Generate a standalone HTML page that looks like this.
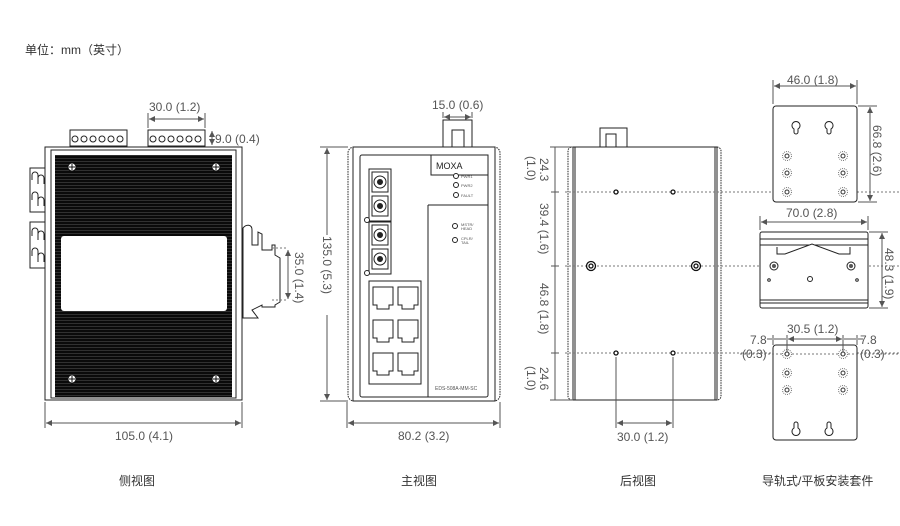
<!DOCTYPE html>
<html><head><meta charset="utf-8"><style>
body{margin:0;background:#fff;width:900px;height:526px;overflow:hidden}
svg{display:block}
text{font-family:"Liberation Sans","Noto Sans CJK SC",sans-serif;fill:#555;font-size:12px}
.c{font-family:"Liberation Sans","Noto Sans CJK SC",sans-serif;fill:#333;font-size:12px}
.d{stroke:#555;stroke-width:1;fill:none}
.o{stroke:#222;fill:#fff;stroke-width:1}
.dot{stroke:#777;stroke-dasharray:2 2;fill:none}
</style></head><body>
<svg width="900" height="526" viewBox="0 0 900 526">
<defs>
<pattern id="hs" width="4" height="3" patternUnits="userSpaceOnUse"><rect width="4" height="3" fill="#0a0a0a"/><rect y="2" width="4" height="0.5" fill="#555"/></pattern>
<marker id="a" viewBox="0 0 6 6" refX="6" refY="3" markerWidth="6" markerHeight="6" orient="auto-start-reverse"><path d="M0,0L6,3L0,6z" fill="#555"/></marker>
</defs>
<text class="c" x="25" y="54">单位：mm（英寸）</text>

<!-- SIDE VIEW -->
<rect x="30" y="168" width="15" height="44" class="o"/>
<rect x="30" y="222" width="15" height="46" class="o"/>
<path d="M32,180 L32,175 a3,3 0 0 1 6,0 L38,180 M38,184 L38,178 a3,3 0 0 1 6,0 L44,184 M32,200 L32,195 a3,3 0 0 1 6,0 L38,200 M38,206 L38,200 a3,3 0 0 1 6,0 L44,206" stroke="#222" fill="none"/>
<path d="M32,236 L32,231 a3,3 0 0 1 6,0 L38,236 M38,240 L38,234 a3,3 0 0 1 6,0 L44,240 M32,256 L32,251 a3,3 0 0 1 6,0 L38,256 M38,262 L38,256 a3,3 0 0 1 6,0 L44,262" stroke="#222" fill="none"/>
<rect x="70" y="130" width="57" height="16" class="o"/>
<rect x="148" y="130" width="57" height="16" class="o"/>
<g fill="#fff" stroke="#222">
<circle cx="75" cy="139" r="3"/><circle cx="84" cy="139" r="3"/><circle cx="93" cy="139" r="3"/><circle cx="102" cy="139" r="3"/><circle cx="111" cy="139" r="3"/><circle cx="120" cy="139" r="3"/>
<circle cx="153" cy="139" r="3"/><circle cx="162" cy="139" r="3"/><circle cx="171" cy="139" r="3"/><circle cx="180" cy="139" r="3"/><circle cx="189" cy="139" r="3"/><circle cx="198" cy="139" r="3"/>
</g>
<rect x="45" y="147" width="197" height="253" class="o"/>
<rect x="51" y="150" width="185" height="248" class="o"/>
<rect x="55" y="155" width="177" height="242" fill="url(#hs)"/>
<rect x="61" y="236" width="166" height="75" rx="3" fill="#fff"/>
<g fill="#fff" stroke="#111"><circle cx="72" cy="167" r="4"/><circle cx="216" cy="167" r="4"/><circle cx="72" cy="379" r="4"/><circle cx="216" cy="379" r="4"/></g>
<path d="M69,167h6M72,164v6M213,167h6M216,164v6M69,379h6M72,376v6M213,379h6M216,376v6" stroke="#111"/>
<path d="M243,318 L243,228 C246,224 252,224 252,230 L252,245 L258,245 L258,232 L262,234 L262,250 L272,250 L272,245 L275,245 L275,255 L280,258 L280,302 L275,305 L275,307 L262,307 L262,305 L252,310 L258,318 Z" class="o"/>
<path d="M272,248 L288,248 M272,300 L288,300" class="dot"/>
<line x1="288" y1="250" x2="288" y2="299" class="d" marker-start="url(#a)" marker-end="url(#a)"/>
<text x="0" y="0" transform="translate(295,252) rotate(90)">35.0 (1.4)</text>
<line x1="148" y1="128" x2="148" y2="113" class="d"/><line x1="205" y1="128" x2="205" y2="113" class="d"/>
<line x1="149" y1="119" x2="204" y2="119" class="d" marker-start="url(#a)" marker-end="url(#a)"/>
<text x="149" y="111">30.0 (1.2)</text>
<line x1="212" y1="131" x2="212" y2="145" class="d" marker-start="url(#a)" marker-end="url(#a)"/>
<text x="215" y="143">9.0 (0.4)</text>
<line x1="45" y1="402" x2="45" y2="428" class="d"/><line x1="242" y1="402" x2="242" y2="428" class="d"/>
<line x1="46" y1="423" x2="241" y2="423" class="d" marker-start="url(#a)" marker-end="url(#a)"/>
<text x="115" y="440">105.0 (4.1)</text>

<!-- FRONT VIEW -->
<rect x="443" y="120" width="29" height="27" class="o"/><rect x="452" y="130" width="12" height="17" class="o"/>
<rect x="348" y="147" width="152" height="254" rx="6" class="o" stroke-dasharray="1.5 1"/>
<rect x="353" y="147" width="142" height="254" class="o"/>
<rect x="360" y="155" width="128" height="242" rx="2" class="o"/>
<rect x="431" y="155" width="57" height="20" class="o"/><text x="436" y="169" style="font-size:9px;fill:#222">MOXA</text>
<line x1="428" y1="205" x2="488" y2="205" stroke="#222"/><line x1="428" y1="205" x2="428" y2="397" stroke="#222"/>
<g fill="#fff" stroke="#222"><circle cx="456" cy="176" r="2.5"/><circle cx="456" cy="185" r="2.5"/><circle cx="456" cy="195" r="2.5"/><circle cx="455" cy="226" r="2.5"/><circle cx="455" cy="240" r="2.5"/></g>
<g fill="#222"><text x="461" y="178" style="font-size:4px">PWR1</text><text x="461" y="187" style="font-size:4px">PWR2</text><text x="461" y="197" style="font-size:4px">FAULT</text><text x="461" y="226" style="font-size:4px">MSTR/</text><text x="461" y="230" style="font-size:4px">HEAD</text><text x="461" y="240" style="font-size:4px">CPLR/</text><text x="461" y="244" style="font-size:4px">TAIL</text><text x="435" y="390" style="font-size:5px">EDS-508A-MM-SC</text></g>
<rect x="369" y="169" width="22" height="52" class="o"/><rect x="369" y="222" width="22" height="52" class="o"/>
<g fill="#fff" stroke="#222"><rect x="372" y="172" width="16" height="20"/><rect x="372" y="196" width="16" height="20"/><rect x="372" y="225" width="16" height="20"/><rect x="372" y="249" width="16" height="20"/>
<circle cx="380" cy="182" r="6"/><circle cx="380" cy="206" r="6"/><circle cx="380" cy="235" r="6"/><circle cx="380" cy="259" r="6"/></g>
<g fill="#222"><circle cx="380" cy="182" r="3"/><circle cx="380" cy="206" r="3"/><circle cx="380" cy="235" r="3"/><circle cx="380" cy="259" r="3"/></g>
<circle cx="367" cy="220" r="2.5" class="o"/><circle cx="367" cy="273" r="2.5" class="o"/>
<rect x="369" y="281" width="52" height="103" class="o"/>
<g class="o"><path d="M373,287h20v18h-4v4h-12v-4h-4z"/><path d="M398,287h20v18h-4v4h-12v-4h-4z"/><path d="M373,320h20v18h-4v4h-12v-4h-4z"/><path d="M398,320h20v18h-4v4h-12v-4h-4z"/><path d="M373,353h20v18h-4v4h-12v-4h-4z"/><path d="M398,353h20v18h-4v4h-12v-4h-4z"/></g>
<line x1="327" y1="148" x2="327" y2="400" class="d" marker-start="url(#a)" marker-end="url(#a)"/>
<line x1="320" y1="147" x2="348" y2="147" class="d"/><line x1="320" y1="401" x2="348" y2="401" class="d"/>
<rect x="320" y="235" width="14" height="80" fill="#fff"/>
<text transform="translate(323,236) rotate(90)">135.0 (5.3)</text>
<line x1="443" y1="118" x2="443" y2="112" class="d"/><line x1="472" y1="118" x2="472" y2="112" class="d"/>
<line x1="444" y1="117" x2="471" y2="117" class="d" marker-start="url(#a)" marker-end="url(#a)"/>
<text x="432" y="109">15.0 (0.6)</text>
<line x1="347" y1="402" x2="347" y2="428" class="d"/><line x1="500" y1="402" x2="500" y2="428" class="d"/>
<line x1="348" y1="423" x2="499" y2="423" class="d" marker-start="url(#a)" marker-end="url(#a)"/>
<text x="398" y="440">80.2 (3.2)</text>

<!-- BACK VIEW -->
<rect x="600" y="128" width="27" height="19" class="o"/><rect x="606" y="134" width="10" height="13" class="o"/>
<rect x="568" y="147" width="153" height="253" rx="4" class="o" stroke-dasharray="1.5 1"/>
<rect x="573" y="147" width="144" height="253" class="o"/>
<path d="M575,147 L575,400 M715,147 L715,400" stroke="#222"/>
<path d="M565,192 L900,192 M565,266 L900,266 M565,353 L900,353" class="dot"/>
<g fill="#fff" stroke="#111" stroke-width="1.3"><circle cx="616" cy="192" r="2"/><circle cx="673" cy="192" r="2"/><circle cx="616" cy="353" r="2"/><circle cx="673" cy="353" r="2"/><circle cx="591" cy="266" r="4.5"/><circle cx="696" cy="266" r="4.5"/><circle cx="591" cy="266" r="2"/><circle cx="696" cy="266" r="2"/></g>
<line x1="555" y1="147" x2="555" y2="400" class="d"/>
<path d="M550,147 L573,147 M550,400 L573,400 M551,192 L559,192 M551,266 L559,266 M551,353 L559,353" class="d"/>
<text transform="translate(540,158) rotate(90)">24.3</text><text transform="translate(527,156) rotate(90)">(1.0)</text>
<text transform="translate(540,203) rotate(90)">39.4 (1.6)</text>
<text transform="translate(540,283) rotate(90)">46.8 (1.8)</text>
<text transform="translate(540,367) rotate(90)">24.6</text><text transform="translate(527,366) rotate(90)">(1.0)</text>
<line x1="616" y1="357" x2="616" y2="428" class="d"/><line x1="673" y1="357" x2="673" y2="428" class="d"/>
<line x1="617" y1="423" x2="672" y2="423" class="d" marker-start="url(#a)" marker-end="url(#a)"/>
<text x="617" y="441">30.0 (1.2)</text>

<!-- DIN RAIL KIT -->
<rect x="773" y="106" width="84" height="96" rx="3" class="o"/>
<g class="o"><path d="M794,129 a4,4 0 1 1 4,0 l0,3 a2,2 0 0 1 -4,0z"/><path d="M827,129 a4,4 0 1 1 4,0 l0,3 a2,2 0 0 1 -4,0z"/></g>
<g fill="#fff" stroke="#333"><circle cx="787" cy="156" r="2"/><circle cx="787" cy="173" r="2"/><circle cx="787" cy="192" r="2"/><circle cx="843" cy="156" r="2"/><circle cx="843" cy="173" r="2"/><circle cx="843" cy="192" r="2"/></g>
<g fill="none" stroke="#777" stroke-dasharray="1 1"><circle cx="787" cy="156" r="4.5"/><circle cx="787" cy="173" r="4.5"/><circle cx="787" cy="192" r="4.5"/><circle cx="843" cy="156" r="4.5"/><circle cx="843" cy="173" r="4.5"/><circle cx="843" cy="192" r="4.5"/></g>
<line x1="773" y1="104" x2="773" y2="80" class="d"/><line x1="857" y1="104" x2="857" y2="80" class="d"/>
<line x1="774" y1="86" x2="856" y2="86" class="d" marker-start="url(#a)" marker-end="url(#a)"/>
<text x="787" y="84">46.0 (1.8)</text>
<path d="M858,106 L877,106 M858,202 L877,202" class="d"/>
<line x1="870" y1="107" x2="870" y2="201" class="d" marker-start="url(#a)" marker-end="url(#a)"/>
<text transform="translate(873,125) rotate(90)">66.8 (2.6)</text>

<rect x="760" y="232" width="108" height="76" rx="2" class="o"/>
<path d="M760,239 L868,239 M760,245 L868,245 M760,300 L868,300 M760,303 L868,303" stroke="#222"/>
<path d="M777,247 L777,254 L785,254 L812,244 L839,254 L850,254 L850,247" class="o" fill="none"/>
<g fill="#fff" stroke="#222"><circle cx="774" cy="266" r="4"/><circle cx="851" cy="266" r="4"/><circle cx="810" cy="279" r="2.5"/><circle cx="769" cy="280" r="1.3"/><circle cx="857" cy="280" r="1.3"/></g>
<g fill="#555"><circle cx="774" cy="266" r="2"/><circle cx="851" cy="266" r="2"/></g>
<path d="M760,230 L760,216 M868,230 L868,216" class="d"/>
<line x1="761" y1="222" x2="867" y2="222" class="d" marker-start="url(#a)" marker-end="url(#a)"/>
<text x="786" y="217">70.0 (2.8)</text>
<path d="M869,232 L888,232 M869,308 L888,308" class="d"/>
<line x1="882" y1="233" x2="882" y2="307" class="d" marker-start="url(#a)" marker-end="url(#a)"/>
<text transform="translate(885,248) rotate(90)">48.3 (1.9)</text>

<rect x="773" y="345" width="84" height="95" rx="3" class="o"/>
<g class="o"><path d="M794,428 a4,4 0 1 0 4,0 l0,-4 a2,2 0 0 0 -4,0z"/><path d="M827,428 a4,4 0 1 0 4,0 l0,-4 a2,2 0 0 0 -4,0z"/></g>
<g fill="#fff" stroke="#333"><circle cx="787" cy="354" r="2"/><circle cx="787" cy="373" r="2"/><circle cx="787" cy="390" r="2"/><circle cx="843" cy="354" r="2"/><circle cx="843" cy="373" r="2"/><circle cx="843" cy="390" r="2"/></g>
<g fill="none" stroke="#777" stroke-dasharray="1 1"><circle cx="787" cy="354" r="4.5"/><circle cx="787" cy="373" r="4.5"/><circle cx="787" cy="390" r="4.5"/><circle cx="843" cy="354" r="4.5"/><circle cx="843" cy="373" r="4.5"/><circle cx="843" cy="390" r="4.5"/></g>
<path d="M773,335 L773,345 M787,335 L787,352 M843,335 L843,352 M857,335 L857,345" class="d"/>
<line x1="788" y1="339" x2="842" y2="339" class="d" marker-start="url(#a)" marker-end="url(#a)"/>
<path d="M767,339 L772,339 M774,339 L786,339 M844,339 L856,339 M858,339 L863,339" class="d"/>
<text x="787" y="333">30.5 (1.2)</text>
<text x="750" y="344">7.8</text><text x="860" y="344">7.8</text>
<text x="742" y="358">(0.3)</text><text x="860" y="358">(0.3)</text>
<path d="M740,354 L900,354" class="dot"/>

<text class="c" x="119" y="485">侧视图</text>
<text class="c" x="401" y="485">主视图</text>
<text class="c" x="620" y="485">后视图</text>
<text class="c" x="762" y="485">导轨式/平板安装套件</text>
</svg>
</body></html>
